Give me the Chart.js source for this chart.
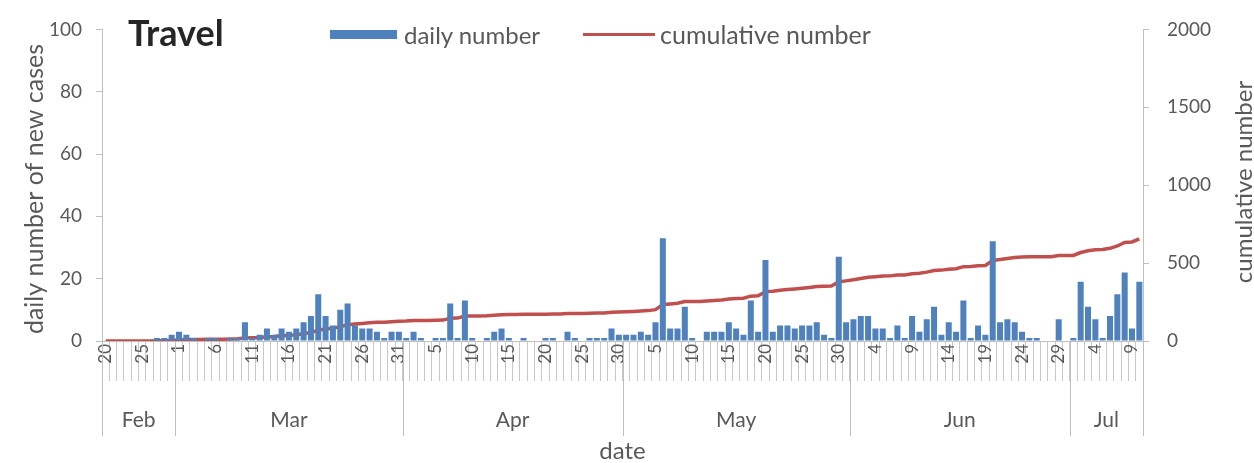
<!DOCTYPE html>
<html>
<head>
<meta charset="utf-8">
<script src="https://cdn.jsdelivr.net/npm/chart.js@4/dist/chart.umd.min.js"></script>
<style>
  html, body { margin: 0; padding: 0; background: #fff; }
  #wrap { position: relative; width: 1254px; height: 463px; font-family: Lato, "Open Sans", sans-serif; }
  #chart { position: absolute; left: 0; top: 0; }
  .title { position: absolute; left: 128px; top: 14px; font-size: 36px; font-weight: bold; line-height: 1; color: #262626; }
  .legend { position: absolute; top: 20px; height: 28px; display: flex; align-items: center; font-size: 24px; color: #595959; white-space: nowrap; }
  .swatch-bar { width: 67px; height: 9px; background: #4f81bd; margin-right: 7px; }
  .swatch-line { width: 72px; height: 3px; background: #c0504d; margin-right: 5px; }
</style>
</head>
<body>
<div id="wrap">
  <canvas id="chart" width="1254" height="463"></canvas>
  <div class="title">Travel</div>
  <div class="legend" style="left:330px"><span class="swatch-bar"></span>daily number</div>
  <div class="legend" style="left:583px; font-size:25px"><span class="swatch-line"></span>cumulative number</div>
</div>
<script>
// months shown on the axis (2020, Feb 20 - Jul 10)
const months = ["Feb", "Mar", "Apr", "May", "Jun", "Jul"];
const monthFirstDay = [20, 1, 1, 1, 1, 1];
const monthLastDay = [29, 31, 30, 31, 30, 10];

// daily number of new cases
const dailyNumber = [
  0, 0, 0, 0, 0, 0, 0, 1, 1, 2,
  3, 2, 1, 0, 1, 1, 0, 1, 1, 6,
  1, 2, 4, 2, 4, 3, 4, 6, 8, 15,
  8, 5, 10, 12, 5, 4, 4, 3, 1, 3,
  3, 1, 3, 1, 0, 1, 1, 12, 1, 13,
  1, 0, 1, 3, 4, 1, 0, 1, 0, 0,
  1, 1, 0, 3, 1, 0, 1, 1, 1, 4,
  2, 2, 2, 3, 2, 6, 33, 4, 4, 11,
  1, 0, 3, 3, 3, 6, 4, 2, 13, 3,
  26, 3, 5, 5, 4, 5, 5, 6, 2, 1,
  27, 6, 7, 8, 8, 4, 4, 1, 5, 1,
  8, 3, 7, 11, 2, 6, 3, 13, 1, 5,
  2, 32, 6, 7, 6, 3, 1, 1, 0, 0,
  7, 0, 1, 19, 11, 7, 1, 8, 15, 22,
  4, 19
];

// cumulative number (right axis)
const cumulativeNumber = [
  0, 0, 0, 0, 0, 0, 0, 1, 2, 4,
  7, 9, 10, 10, 11, 12, 12, 13, 14, 20,
  21, 23, 27, 29, 33, 36, 40, 46, 54, 69,
  77, 82, 92, 104, 109, 113, 117, 120, 121, 124,
  127, 128, 131, 132, 132, 133, 134, 146, 147, 160,
  161, 161, 162, 165, 169, 170, 170, 171, 171, 171,
  172, 173, 173, 176, 177, 177, 178, 179, 180, 184,
  186, 188, 190, 193, 195, 201, 234, 238, 242, 253,
  254, 254, 257, 260, 263, 269, 273, 275, 288, 291,
  317, 320, 325, 330, 334, 339, 344, 350, 352, 353,
  380, 386, 393, 401, 409, 413, 417, 418, 423, 424,
  432, 435, 442, 453, 455, 461, 464, 477, 478, 483,
  485, 517, 523, 530, 536, 539, 540, 541, 541, 541,
  548, 548, 549, 568, 579, 586, 587, 595, 610, 632,
  636, 655
];

const leftTicks = [0, 20, 40, 60, 80, 100];
const rightTicks = [0, 500, 1000, 1500, 2000];

// one label per day, day of month
const dayLabels = [];
months.forEach(function (m, k) {
  for (let d = monthFirstDay[k]; d <= monthLastDay[k]; d++) dayLabels.push(String(d));
});

const textGrey = "#595959";
const axisGrey = "#bfbfbf";

// month row, separators and axis titles
const axisExtras = {
  id: "axisExtras",
  afterDraw(chart) {
    const ctx = chart.ctx;
    const xs = chart.scales.x;
    const area = chart.chartArea;
    const step = xs.getPixelForValue(1) - xs.getPixelForValue(0);
    ctx.save();
    ctx.strokeStyle = axisGrey;
    ctx.lineWidth = 1;
    ctx.fillStyle = textGrey;
    ctx.font = "21px Lato";
    ctx.textAlign = "center";
    ctx.textBaseline = "middle";
    let idx = 0;
    months.forEach(function (m, k) {
      const n = monthLastDay[k] - monthFirstDay[k] + 1;
      const x0 = xs.getPixelForValue(idx) - step / 2;
      const x1 = xs.getPixelForValue(idx + n - 1) + step / 2;
      const lines = k === months.length - 1 ? [x0, x1] : [x0];
      lines.forEach(function (x) {
        const px = Math.round(x) + 0.5;
        ctx.beginPath();
        ctx.moveTo(px, area.bottom);
        ctx.lineTo(px, 436);
        ctx.stroke();
      });
      ctx.fillText(m, (x0 + x1) / 2, 420);
      idx += n;
    });

    ctx.font = "24px Lato";
    ctx.fillText("date", (area.left + area.right) / 2, 451);

    ctx.save();
    ctx.font = "25px Lato";
    ctx.translate(35, 189);
    ctx.rotate(-Math.PI / 2);
    ctx.fillText("daily number of new cases", 0, 0);
    ctx.restore();

    ctx.save();
    ctx.translate(1244, 182);
    ctx.rotate(-Math.PI / 2);
    ctx.fillText("cumulative number", 0, 0);
    ctx.restore();
    ctx.restore();
  }
};

new Chart(document.getElementById("chart"), {
  data: {
    labels: dayLabels,
    datasets: [
      {
        type: "bar",
        label: "daily number",
        data: dailyNumber,
        yAxisID: "y",
        backgroundColor: "#4f81bd",
        categoryPercentage: 1,
        barPercentage: 0.82,
        order: 0
      },
      {
        type: "line",
        label: "cumulative number",
        data: cumulativeNumber,
        yAxisID: "y1",
        borderColor: "#c0504d",
        borderWidth: 3.5,
        pointRadius: 0,
        tension: 0,
        order: 1
      }
    ]
  },
  options: {
    responsive: false,
    animation: false,
    devicePixelRatio: 1,
    layout: { padding: { top: 20, left: 0, right: 0, bottom: 0 } },
    plugins: { legend: { display: false }, tooltip: { enabled: false } },
    scales: {
      x: {
        type: "category",
        grid: { drawOnChartArea: false, drawTicks: true, tickLength: 40, color: "#c8c8c8", offset: true },
        border: { display: true, color: axisGrey },
        ticks: {
          autoSkip: false,
          minRotation: 90,
          maxRotation: 90,
          padding: -37,
          color: textGrey,
          font: { family: "Lato", size: 17 },
          callback: function (v, i) { return i % 5 === 0 ? dayLabels[i] : ""; }
        },
        afterFit: function (s) { s.height = 122; }
      },
      y: {
        position: "left",
        min: 0,
        max: 100,
        afterBuildTicks: function (s) { s.ticks = leftTicks.map(function (v) { return { value: v }; }); },
        grid: { drawOnChartArea: false, drawTicks: true, tickLength: 6, color: axisGrey },
        border: { display: true, color: axisGrey },
        ticks: { padding: 14, color: textGrey, font: { family: "Lato", size: 19 } },
        afterFit: function (s) { s.width = 102; }
      },
      y1: {
        position: "right",
        min: 0,
        max: 2000,
        afterBuildTicks: function (s) { s.ticks = rightTicks.map(function (v) { return { value: v }; }); },
        grid: { drawOnChartArea: false, drawTicks: true, tickLength: 6, color: axisGrey },
        border: { display: true, color: axisGrey },
        ticks: {
          padding: 18,
          color: textGrey,
          font: { family: "Lato", size: 19 },
          callback: function (v) { return String(v); }
        },
        afterFit: function (s) { s.width = 111; }
      }
    }
  },
  plugins: [axisExtras]
});
</script>
</body>
</html>
